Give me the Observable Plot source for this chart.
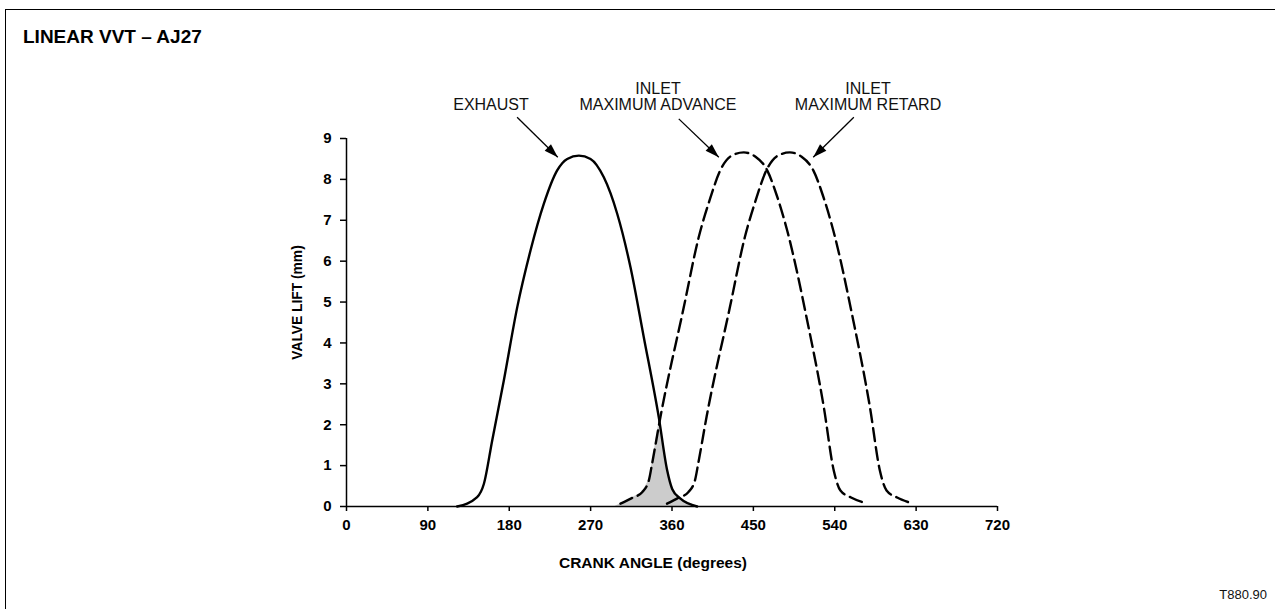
<!DOCTYPE html>
<html><head><meta charset="utf-8">
<script src="https://cdn.jsdelivr.net/npm/d3@7"></script>
<script src="https://cdn.jsdelivr.net/npm/@observablehq/plot@0.6"></script>
<style>
html,body{margin:0;padding:0;background:#fff;overflow:hidden;width:1275px;height:609px;}
#frame{position:absolute;left:5px;top:9px;width:1400px;height:800px;border:1px solid #000;}
#title{position:absolute;left:23px;top:27px;font:bold 19px "Liberation Sans",Arial,sans-serif;line-height:1;color:#000;}
#code{position:absolute;right:8px;top:588px;font:13px "Liberation Sans",Arial,sans-serif;line-height:1;color:#111;}
#chart{position:absolute;left:0;top:0;}
</style></head><body>
<div id="frame"></div>
<div id="chart"></div>
<div id="title">LINEAR VVT – AJ27</div>
<div id="code">T880.90</div>
<script>
// ---- data ----
const xTicks = [0, 90, 180, 270, 360, 450, 540, 630, 720];
const yTicks = [0, 1, 2, 3, 4, 5, 6, 7, 8, 9];

const exhaustAngle = [122.4, 144.5, 151.9, 161.1, 174.0, 188.8, 203.5, 218.2, 233.0, 244.1, 257.0, 269.9, 284.6, 299.4, 314.1, 328.8, 345.4, 354.7, 360.2, 369.4, 387.8];
const exhaustLift  = [0,     0.23,  0.55,  1.61,  3.08,  4.87,  6.26,  7.40,  8.22,  8.50,  8.58,  8.50,  8.05,  7.16,  5.85,  4.14,  2.18,  0.88,  0.43,  0.19,  0];

const advanceAngle = [303.0, 315.0, 327.0, 334.4, 338.0, 347.3, 373.0, 389.6, 401.0, 414.0, 426.0, 439.4, 452.0, 465.3, 476.0, 487.4, 509.5, 527.9, 538.9, 546.3, 558.0, 570.3];
const advanceLift  = [0.07,  0.20,  0.35,  0.64,  1.05,  2.20,  4.87,  6.59,  7.45,  8.25,  8.58,  8.66,  8.56,  8.22,  7.60,  6.75,  4.55,  2.43,  0.88,  0.39,  0.22,  0.11];

const retardAngle = [354.5, 366.0, 378.0, 385.4, 389.0, 398.3, 424.0, 440.6, 452.0, 465.0, 477.0, 490.4, 503.0, 516.3, 527.0, 538.4, 560.5, 578.9, 589.9, 597.3, 609.0, 621.0];
const retardLift  = [0.07,  0.20,  0.35,  0.64,  1.05,  2.20,  4.87,  6.59,  7.45,  8.25,  8.58,  8.66,  8.56,  8.22,  7.60,  6.75,  4.55,  2.43,  0.88,  0.39,  0.22,  0.11];

// valve overlap (shaded)
const overlapAngle = [297.0, 303.0, 315.0, 327.0, 334.4, 338.0, 346.5, 354.7, 360.2, 369.4, 387.8];
const overlapLift  = [0,     0.07,  0.20,  0.35,  0.64,  1.05,  2.18,  0.88,  0.43,  0.19,  0];

const labelText  = ["EXHAUST", "INLET\nMAXIMUM ADVANCE", "INLET\nMAXIMUM RETARD"];
const labelAngle = [159.8, 344.5, 576.8];
const labelLift  = [9.685, 9.685, 9.685];

const arrowFromAngle = [188.7, 367.5, 561.1];
const arrowFromLift  = [9.52, 9.48, 9.52];
const arrowToAngle   = [233.7, 411.8, 516.2];
const arrowToLift    = [8.54, 8.54, 8.54];

const xTitle = "CRANK ANGLE (degrees)";
const yTitle = "VALVE LIFT (mm)";

// ---- build tables ----
const toRows = (a, l) => a.map((v, i) => ({angle: v, lift: l[i]}));
const exhaust = toRows(exhaustAngle, exhaustLift);
const advance = toRows(advanceAngle, advanceLift);
const retard = toRows(retardAngle, retardLift);
const overlap = toRows(overlapAngle, overlapLift);
const labels = labelText.map((t, i) => ({text: t, angle: labelAngle[i], lift: labelLift[i]}));
const arrows = arrowFromAngle.map((v, i) => ({x1: v, y1: arrowFromLift[i], x2: arrowToAngle[i], y2: arrowToLift[i]}));

const W = 1275, H = 609, ML = 346, MR = 278, MT = 138, MB = 103;
const xPx = (W - ML - MR) / 720, yPx = (H - MT - MB) / 9;

const headSymbol = {
  draw(context) {
    context.moveTo(0, 0);
    context.lineTo(4.5, 14);
    context.lineTo(-4.5, 14);
    context.closePath();
  }
};

const font = '"Liberation Sans", Arial, sans-serif';

const plot = Plot.plot({
  width: W, height: H,
  marginLeft: ML, marginRight: MR, marginTop: MT, marginBottom: MB,
  style: {fontFamily: font, background: "transparent", overflow: "visible", color: "#000"},
  x: {domain: [0, 720], ticks: xTicks, label: null},
  y: {domain: [0, 9], ticks: yTicks, label: null},
  marks: [
    Plot.areaY(overlap, {x: "angle", y: "lift", fill: "#cccccc", curve: "linear"}),
    Plot.axisX({ticks: xTicks, tickSize: 5, tickPadding: 8, fontSize: 15, fontWeight: "bold", strokeWidth: 1.5, label: null}),
    Plot.axisY({ticks: yTicks, tickSize: 6, tickPadding: 9, fontSize: 15, fontWeight: "bold", strokeWidth: 1.5, label: null}),
    Plot.ruleY([0], {strokeWidth: 1.5}),
    Plot.ruleX([0], {strokeWidth: 1.5}),
    Plot.line(exhaust, {x: "angle", y: "lift", stroke: "#000", strokeWidth: 2.4, curve: "monotone-x"}),
    Plot.line(advance, {x: "angle", y: "lift", stroke: "#000", strokeWidth: 2.4, strokeDasharray: "13,6", curve: "monotone-x"}),
    Plot.line(retard, {x: "angle", y: "lift", stroke: "#000", strokeWidth: 2.4, strokeDasharray: "13,6", curve: "monotone-x"}),
    Plot.link(arrows, {x1: "x1", y1: "y1", x2: "x2", y2: "y2", stroke: "#000", strokeWidth: 1.3}),
    Plot.dot(arrows, {x: "x2", y: "y2", symbol: headSymbol, fill: "#000", stroke: null,
      rotate: d => Math.atan2((d.x2 - d.x1) * xPx, (d.y2 - d.y1) * yPx) * 180 / Math.PI}),
    Plot.text(labels, {x: "angle", y: "lift", text: "text", lineAnchor: "bottom", lineHeight: 1.0, fontSize: 16, fill: "#111"}),
    Plot.text([xTitle], {frameAnchor: "bottom", textAnchor: "middle", lineAnchor: "middle", dx: -19, dy: 57, fontSize: 15.5, fontWeight: "bold"}),
    Plot.text([yTitle], {frameAnchor: "left", textAnchor: "middle", lineAnchor: "middle", dx: -49, dy: -20, rotate: -90, fontSize: 13.8, fontWeight: "bold"})
  ]
});
document.getElementById("chart").appendChild(plot);
</script>
</body></html>
